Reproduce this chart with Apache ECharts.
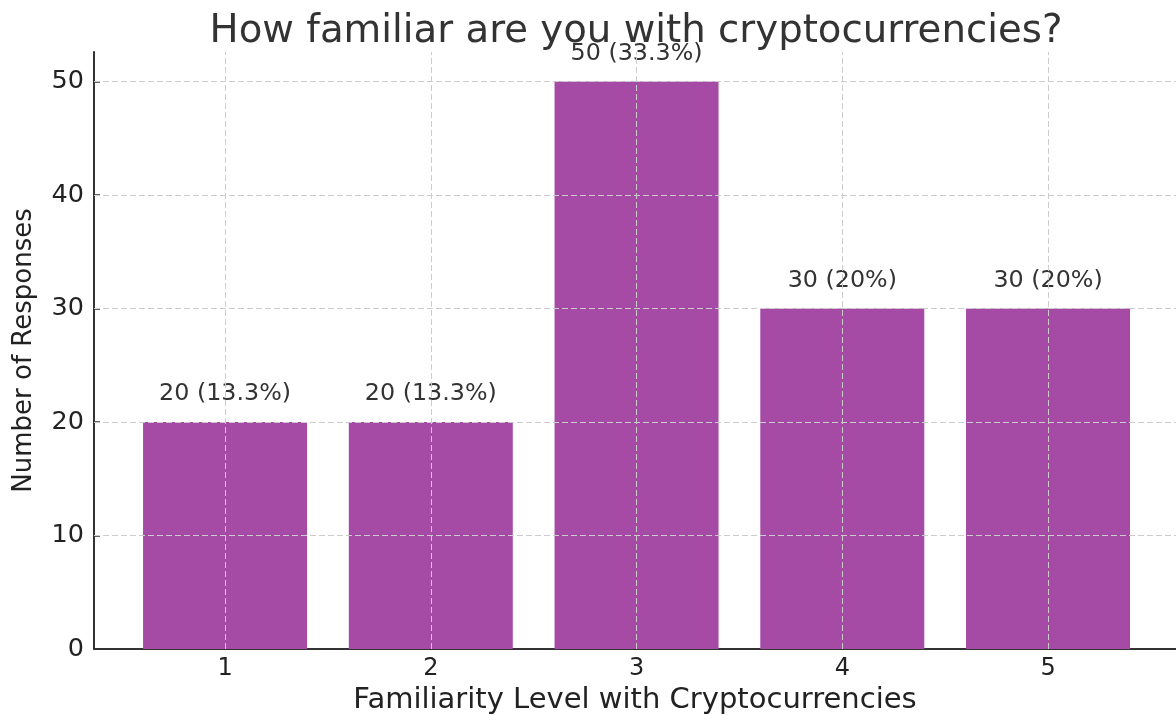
<!DOCTYPE html>
<html>
<head>
<meta charset="utf-8">
<script src="https://cdn.jsdelivr.net/npm/echarts@6/dist/echarts.min.js"></script>
<style>html,body{margin:0;padding:0;background:#fff}#c{width:1176px;height:715px}</style>
</head>
<body>
<div id="c"></div>
<script>
const title = 'How familiar are you with cryptocurrencies?';
const xName = 'Familiarity Level with Cryptocurrencies';
const yName = 'Number of Responses';
const categories = [1, 2, 3, 4, 5];
const responses = [20, 20, 50, 30, 30];
const yTicks = [0, 10, 20, 30, 40, 50];

const total = responses.reduce((a, b) => a + b, 0);
function pctText(v) {
  const p = Math.round(v / total * 1000) / 10;
  return (p % 1 === 0 ? p.toFixed(0) : p.toFixed(1)) + '%';
}
const font = 'DejaVu Sans';
const chart = echarts.init(document.getElementById('c'), null, {renderer: 'canvas'});
const gridLines = yTicks.filter(v => v > 0).map(v => ({yAxis: v}))
  .concat(categories.map(c => ({xAxis: c})));
chart.setOption({
  animation: false,
  title: {
    text: title, left: 631, top: 7, textAlign: 'center',
    textStyle: {fontFamily: font, fontSize: 38.7, fontWeight: 'normal', color: '#333'}
  },
  grid: {left: 94, right: 0, top: 52, bottom: 66, outerBoundsMode: 'none', containLabel: false},
  xAxis: {
    type: 'value', min: 0.363, max: 5.622,
    name: xName, nameLocation: 'middle', nameGap: 37,
    nameTextStyle: {fontFamily: font, fontSize: 29, color: '#222'},
    axisLine: {show: true, lineStyle: {color: '#333', width: 2}},
    axisTick: {show: true, inside: true, length: 6, customValues: categories, lineStyle: {color: '#333', width: 1.5}},
    axisLabel: {customValues: categories, fontFamily: font, fontSize: 24, color: '#222', margin: 8},
    splitLine: {show: false}
  },
  yAxis: {
    type: 'value', min: 0, max: 52.6,
    name: yName, nameLocation: 'middle', nameGap: 57, nameRotate: 90,
    nameTextStyle: {fontFamily: font, fontSize: 26, color: '#222'},
    axisLine: {show: true, lineStyle: {color: '#333', width: 2}},
    axisTick: {show: true, inside: true, length: 6, customValues: yTicks, lineStyle: {color: '#333', width: 1.5}},
    axisLabel: {customValues: yTicks, fontFamily: font, fontSize: 25.5, color: '#222', margin: 10},
    splitLine: {show: false}
  },
  series: [
    {
      type: 'bar', barWidth: 164, z: 2,
      data: categories.map((c, i) => [c, responses[i]]),
      itemStyle: {color: '#a54ba5'},
      label: {
        show: true, position: 'top', distance: 16,
        fontFamily: font, fontSize: 23.8, color: '#333',
        formatter: p => p.value[1] + ' (' + pctText(p.value[1]) + ')'
      }
    },
    {
      type: 'scatter', data: [], z: 5, silent: true,
      markLine: {
        silent: true, symbol: 'none', animation: false,
        label: {show: false},
        lineStyle: {color: '#cccccc', type: [6, 3], width: 1},
        emphasis: {disabled: true},
        data: gridLines
      }
    }
  ]
});
</script>
</body>
</html>
